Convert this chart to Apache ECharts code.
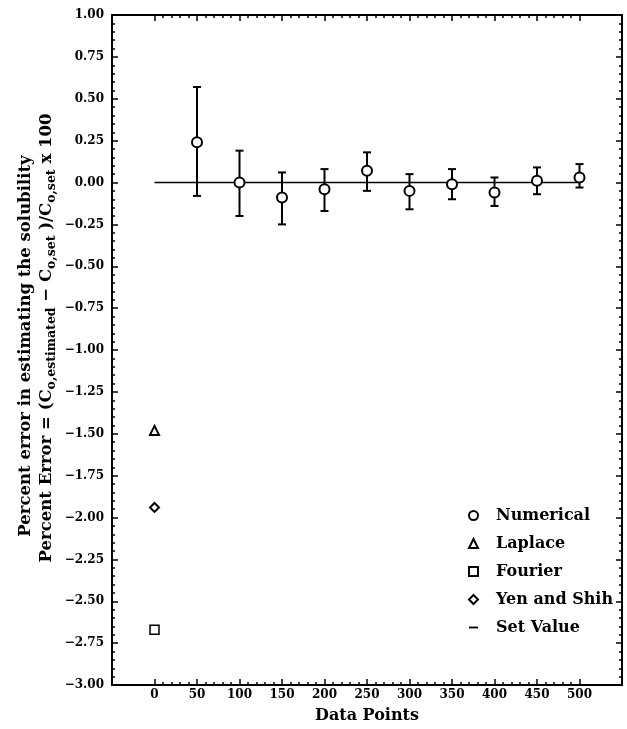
<!DOCTYPE html>
<html>
<head>
<meta charset="utf-8">
<script src="https://cdn.jsdelivr.net/npm/echarts@6/dist/echarts.min.js"></script>
<style>
html, body { margin: 0; padding: 0; background: #fff; }
#chart { width: 627px; height: 729px; }
</style>
</head>
<body>
<div id="chart"></div>
<script>
// data
var dataPoints = [50, 100, 150, 200, 250, 300, 350, 400, 450, 500];
var numerical = [0.24, 0.00, -0.09, -0.04, 0.07, -0.05, -0.01, -0.06, 0.01, 0.03];
var errLow = [-0.08, -0.20, -0.25, -0.17, -0.05, -0.16, -0.10, -0.14, -0.07, -0.03];
var errHigh = [0.57, 0.19, 0.06, 0.08, 0.18, 0.05, 0.08, 0.03, 0.09, 0.11];
var laplace = [[0, -1.48]];
var yenShih = [[0, -1.94]];
var fourier = [[0, -2.67]];
var setValue = [[0, 0], [500, 0]];
var xTickLabels = [0, 50, 100, 150, 200, 250, 300, 350, 400, 450, 500];

var FONT = 'DejaVu Serif';

var xMinor = [];
for (var v = 0; v <= 500; v += 10) {
  if (v % 50 !== 0) xMinor.push(v);
}

var numData = [];
var errData = [];
for (var i = 0; i < dataPoints.length; i++) {
  numData.push([dataPoints[i], numerical[i]]);
  errData.push([dataPoints[i], errLow[i], errHigh[i]]);
}

function fmtY(val) {
  var s = Math.abs(val).toFixed(2);
  return val < -1e-9 ? '\u2212' + s : s;
}

var chart = echarts.init(document.getElementById('chart'));

var lineBlack = { color: '#000', width: 2 };

function xAx(pos, ticks, len, withLine, withLabel) {
  return {
    type: 'value',
    position: pos,
    min: -50,
    max: 550,
    interval: 50,
    axisLine: { show: withLine, onZero: false, lineStyle: lineBlack },
    axisTick: { show: true, inside: true, length: len, customValues: ticks, lineStyle: { color: '#000', width: 1.5 } },
    axisLabel: withLabel ? {
      show: true, customValues: xTickLabels, margin: 4, color: '#000',
      fontFamily: FONT, fontWeight: 'bold', fontSize: 12
    } : { show: false },
    splitLine: { show: false }
  };
}

var xAxes = [
  xAx('bottom', xTickLabels, 6, true, true),
  xAx('bottom', xMinor, 3, false, false),
  xAx('top', xTickLabels, 6, true, false),
  xAx('top', xMinor, 3, false, false)
];
xAxes[0].name = 'Data Points';
xAxes[0].nameLocation = 'middle';
xAxes[0].nameGap = 23;
xAxes[0].nameTextStyle = { fontFamily: FONT, fontWeight: 'bold', fontSize: 16, color: '#000' };

function yAx(pos, withLabel) {
  return {
    type: 'value',
    position: pos,
    min: -3,
    max: 1,
    interval: 0.25,
    axisLine: { show: true, onZero: false, lineStyle: lineBlack },
    axisTick: { show: true, inside: true, length: 6, lineStyle: { color: '#000', width: 1.5 } },
    minorTick: { show: true, splitNumber: 5, length: 3, lineStyle: { color: '#000', width: 1.5 } },
    axisLabel: withLabel ? {
      show: true, margin: 8, color: '#000', formatter: fmtY,
      fontFamily: FONT, fontWeight: 'bold', fontSize: 12
    } : { show: false },
    splitLine: { show: false }
  };
}

var option = {
  backgroundColor: '#fff',
  animation: false,
  grid: { left: 112, right: 5, top: 15, bottom: 40 },
  xAxis: xAxes,
  yAxis: [yAx('left', true), yAx('right', false)],
  legend: {
    orient: 'vertical',
    left: 463,
    top: 502,
    itemWidth: 9,
    itemHeight: 9,
    itemGap: 11,
    textStyle: { fontFamily: FONT, fontWeight: 'bold', fontSize: 16, color: '#000', lineHeight: 17, padding: [0, 0, 0, 13] },
    data: [
      { name: 'Numerical' },
      { name: 'Laplace' },
      { name: 'Fourier' },
      { name: 'Yen and Shih' },
      { name: 'Set Value', icon: 'path://M0,0 H10 V2 H0 Z' }
    ]
  },
  graphic: [
    {
      type: 'text', x: 26, y: 346, rotation: Math.PI / 2,
      style: {
        text: 'Percent error in estimating the solubility',
        fontFamily: FONT, fontWeight: 'bold', fontSize: 16.5, fill: '#000',
        align: 'center', verticalAlign: 'middle'
      }
    },
    {
      type: 'text', x: 47, y: 338, rotation: Math.PI / 2,
      style: {
        text: 'Percent Error = (C{s|o,estimated} \u2212 C{s|o,set} )/C{s|o,set} x 100',
        fontFamily: FONT, fontWeight: 'bold', fontSize: 16.5, fill: '#000',
        lineHeight: 22,
        align: 'center', verticalAlign: 'middle',
        rich: {
          s: { fontFamily: FONT, fontWeight: 'bold', fontSize: 12.5, lineHeight: 11, verticalAlign: 'bottom', fill: '#000' }
        }
      }
    }
  ],
  series: [
    {
      name: 'Set Value',
      type: 'line',
      data: setValue,
      symbol: 'none',
      lineStyle: { color: '#000', width: 1.5 },
      itemStyle: { color: '#000' },
      z: 1
    },
    {
      name: 'errbar',
      type: 'custom',
      data: errData,
      encode: { x: 0, y: [1, 2] },
      renderItem: function (params, api) {
        var x = api.value(0);
        var top = api.coord([x, api.value(2)]);
        var bot = api.coord([x, api.value(1)]);
        var cap = 4;
        var st = { stroke: '#000', lineWidth: 2 };
        return {
          type: 'group',
          children: [
            { type: 'line', shape: { x1: top[0], y1: top[1], x2: bot[0], y2: bot[1] }, style: st },
            { type: 'line', shape: { x1: top[0] - cap, y1: top[1], x2: top[0] + cap, y2: top[1] }, style: st },
            { type: 'line', shape: { x1: bot[0] - cap, y1: bot[1], x2: bot[0] + cap, y2: bot[1] }, style: st }
          ]
        };
      },
      z: 2
    },
    {
      name: 'Numerical',
      type: 'scatter',
      data: numData,
      symbol: 'circle',
      symbolSize: 10,
      itemStyle: { color: '#fff', borderColor: '#000', borderWidth: 2, opacity: 1 },
      z: 3
    },
    {
      name: 'Laplace',
      type: 'scatter',
      data: laplace,
      symbol: 'triangle',
      symbolSize: 9,
      itemStyle: { color: '#fff', borderColor: '#000', borderWidth: 2, opacity: 1 },
      z: 3
    },
    {
      name: 'Fourier',
      type: 'scatter',
      data: fourier,
      symbol: 'rect',
      symbolSize: 9,
      itemStyle: { color: '#fff', borderColor: '#000', borderWidth: 1.5, opacity: 1 },
      z: 3
    },
    {
      name: 'Yen and Shih',
      type: 'scatter',
      data: yenShih,
      symbol: 'diamond',
      symbolSize: 9,
      itemStyle: { color: '#fff', borderColor: '#000', borderWidth: 2, opacity: 1 },
      z: 3
    }
  ]
};

chart.setOption(option);
</script>
</body>
</html>
